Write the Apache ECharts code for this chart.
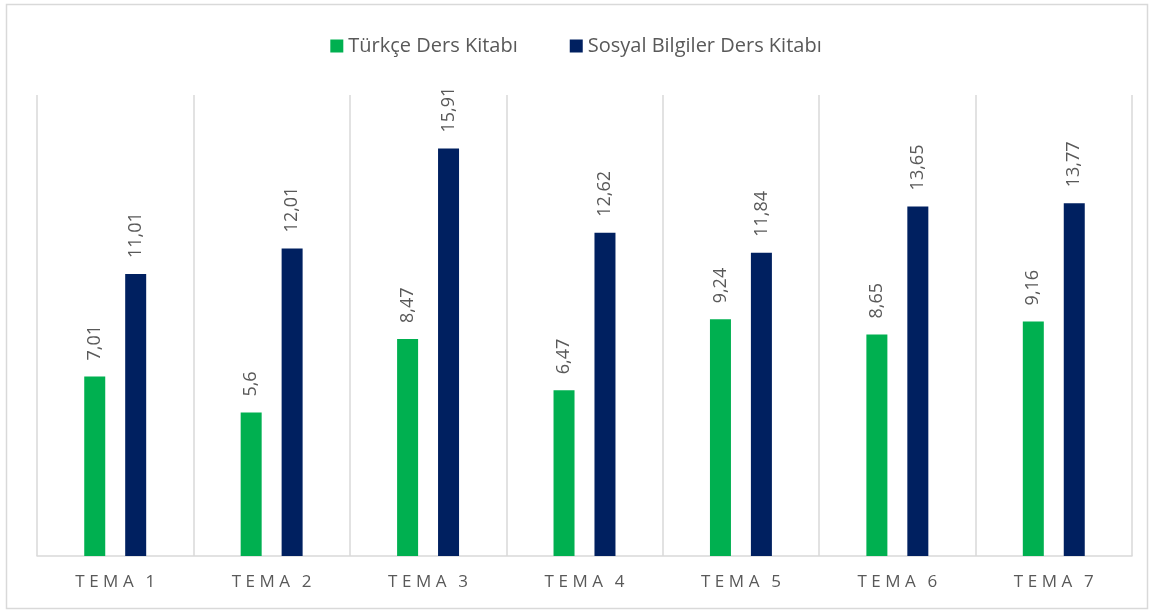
<!DOCTYPE html>
<html><head><meta charset="utf-8">
<script src="https://cdn.jsdelivr.net/npm/echarts@6/dist/echarts.min.js"></script>
<style>html,body{margin:0;padding:0;background:#fff}#c{width:1152px;height:613px}</style>
</head><body><div id="c"></div>
<script>
const categories = ['TEMA 1','TEMA 2','TEMA 3','TEMA 4','TEMA 5','TEMA 6','TEMA 7'];
const seriesNames = ['Türkçe Ders Kitabı','Sosyal Bilgiler Ders Kitabı'];
const turkce = [7.01, 5.6, 8.47, 6.47, 9.24, 8.65, 9.16];
const sosyal = [11.01, 12.01, 15.91, 12.62, 11.84, 13.65, 13.77];
const colors = ['#00b050', '#002060'];

const chart = echarts.init(document.getElementById('c'));
const fmt = p => String(p.value).replace('.', ',');
const lbl = {
  show: true, position: 'top', rotate: 90, align: 'left', verticalAlign: 'middle',
  distance: 16, color: '#595959', fontSize: 18, fontFamily: 'Open Sans', formatter: fmt
};
const spaced = v => v.split(' ').map(w => w.split('').join('\u2009\u200A')).join('\u2009\u200A\u2009 ');
chart.setOption({
  animation: false,
  graphic: [{type: 'rect', shape: {x: 6.5, y: 4.5, width: 1141, height: 604},
    style: {fill: null, stroke: '#d9d9d9', lineWidth: 1.5}, silent: true}],
  legend: {
    top: 31, left: 'center', itemWidth: 13, itemHeight: 13, itemGap: 52,
    icon: 'rect',
    textStyle: {color: '#595959', fontSize: 20, fontFamily: 'Open Sans'},
    data: seriesNames
  },
  grid: {left: 37, right: 20, top: 95, bottom: 57, containLabel: false},
  xAxis: {
    type: 'category', data: categories,
    axisLine: {lineStyle: {color: '#d9d9d9', width: 1.5}},
    axisTick: {show: false},
    splitLine: {show: true, lineStyle: {color: '#d9d9d9', width: 1.5}},
    axisLabel: {color: '#595959', fontSize: 17, fontFamily: 'Open Sans', margin: 18,
      formatter: spaced}
  },
  yAxis: {
    type: 'value', min: 0, max: 18, interval: 2, show: false,
    splitLine: {show: false}
  },
  series: [
    {name: seriesNames[0], type: 'bar', data: turkce, barWidth: 21, barGap: '95%',
     itemStyle: {color: colors[0]}, label: lbl},
    {name: seriesNames[1], type: 'bar', data: sosyal, barWidth: 21,
     itemStyle: {color: colors[1]}, label: lbl}
  ]
});
</script></body></html>
